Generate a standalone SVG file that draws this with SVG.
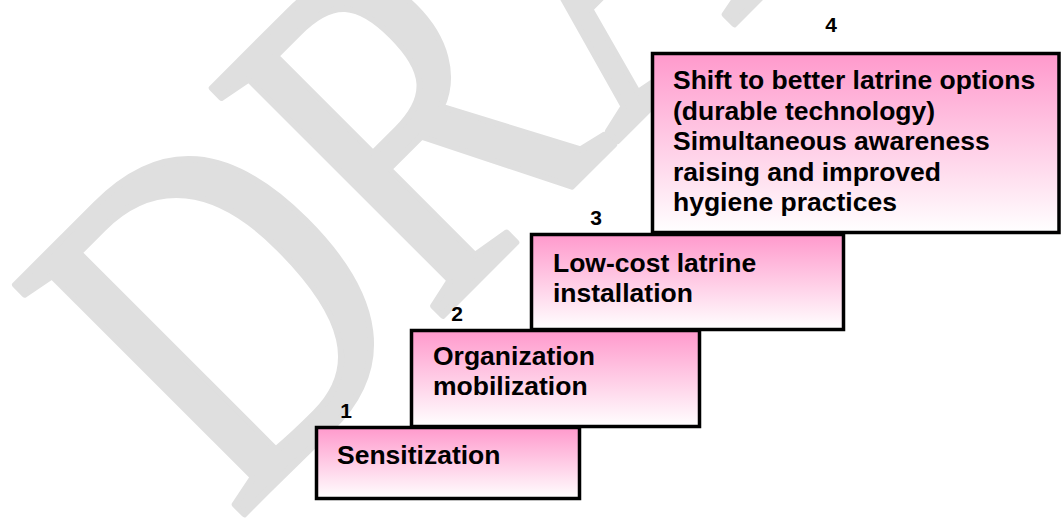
<svg xmlns="http://www.w3.org/2000/svg" width="1062" height="518" viewBox="0 0 1062 518">
<defs>
<linearGradient id="pink" x1="0" y1="0" x2="0" y2="1">
<stop offset="0" stop-color="#ff99cc"/>
<stop offset="1" stop-color="#ffffff"/>
</linearGradient>
</defs>
<style>
.box{fill:url(#pink);stroke:#000;stroke-width:3.5}
.t{font-family:"Liberation Sans",Arial,sans-serif;font-weight:bold;font-size:26.5px;fill:#000}
.n{font-family:"Liberation Sans",Arial,sans-serif;font-weight:bold;font-size:21px;fill:#000;text-anchor:middle}
.wm{font-family:"Liberation Serif","Times New Roman",serif;font-size:494px;fill:#dfdfdf;stroke:#dfdfdf;stroke-width:7;stroke-linejoin:round}
</style>
<rect width="1062" height="518" fill="#fff"/>
<text class="wm" transform="translate(236,522) rotate(-45) scale(0.78,1)">DRAFT</text>
<g id="connectors"/>
<g id="step4">
<rect class="box" x="652.5" y="53.5" width="406.5" height="179"/>
<text class="n" x="831" y="32">4</text>
<text class="t" x="673" y="89">Shift to better latrine options</text>
<text class="t" x="673" y="119.5">(durable technology)</text>
<text class="t" x="673" y="150">Simultaneous awareness</text>
<text class="t" x="673" y="180.5">raising and improved</text>
<text class="t" x="673" y="211">hygiene practices</text>
</g>
<g id="step3">
<rect class="box" x="531.5" y="234.5" width="312" height="95"/>
<text class="n" x="596" y="225">3</text>
<text class="t" x="553" y="272">Low-cost latrine</text>
<text class="t" x="553" y="302">installation</text>
</g>
<g id="step2">
<rect class="box" x="411.5" y="330.5" width="288" height="96"/>
<text class="n" x="457" y="321">2</text>
<text class="t" x="433" y="365">Organization</text>
<text class="t" x="433" y="395">mobilization</text>
</g>
<g id="step1">
<rect class="box" x="316.5" y="427.5" width="263" height="71"/>
<text class="n" x="346" y="418">1</text>
<text class="t" x="337" y="464">Sensitization</text>
</g>
</svg>
